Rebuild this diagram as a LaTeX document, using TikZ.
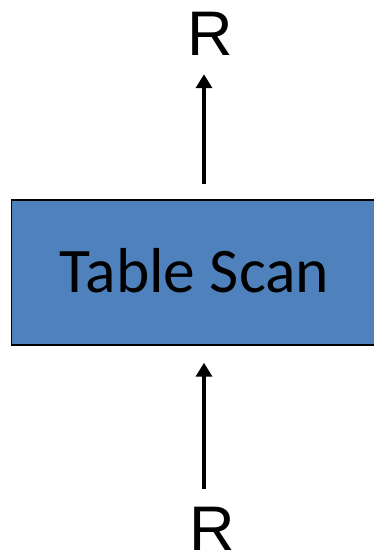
\documentclass[tikz,border=0pt]{standalone}
\usepackage{fontspec}
\setmainfont{Liberation Sans}
\newfontfamily\calibri{Carlito}
\usetikzlibrary{arrows.meta}
\definecolor{opblue}{HTML}{4F81BD}

\begin{document}
\begin{tikzpicture}[x=1pt, y=1pt,
		opbox/.style={draw=black, line width=1.5pt, fill=opblue, minimum width=366pt, minimum height=145pt, inner sep=0pt, text height=41pt, text depth=0pt, font=\calibri\fontsize{63.5}{63.5}\selectfont},
		rel/.style={inner sep=0pt, anchor=base, font=\fontsize{63}{63}\selectfont},
		flow/.style={line width=3.5pt, -{Triangle[width=16pt,length=14pt]}}]
				\useasboundingbox (0,0) rectangle (374,553);
				\node[opbox] (scan) at (194.5,280.5) {Table Scan};
				\node[rel] (rtop) at (210,497) {R};
				\node[rel] (rbot) at (212,2) {R};
				\coordinate (axis) at (204,0);
				\draw[flow, shorten <=15pt, shorten >=18pt] (scan.north -| axis) -- (rtop.south -| axis);
				\draw[flow, shorten <=18pt, shorten >=17pt] (rbot.north -| axis) -- (scan.south -| axis);

			\end{tikzpicture}
\end{document}
